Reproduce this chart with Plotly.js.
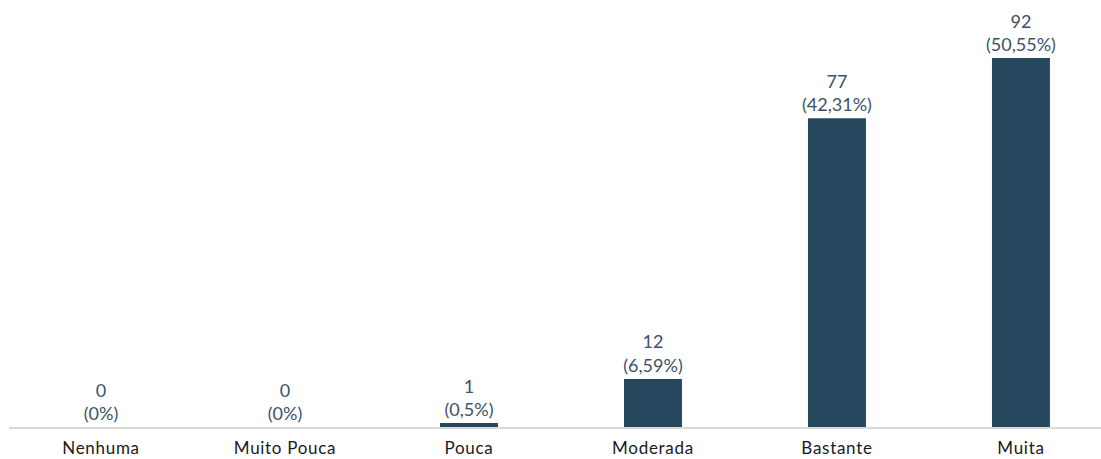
<!DOCTYPE html>
<html>
<head>
<meta charset="utf-8">
<script src="https://cdn.plot.ly/plotly-3.0.1.min.js"></script>
<style>
  html, body { margin: 0; padding: 0; background: #fff; }
  #chart { width: 1101px; height: 459px; }
  /* slightly open tracking for bar labels and category names */
  #chart .textpoint text, #chart .xtick text { letter-spacing: 0.7px; }
</style>
</head>
<body>
<div id="chart"></div>
<script>
// Answer categories and respondent counts
const categories = ['Nenhuma', 'Muito Pouca', 'Pouca', 'Moderada', 'Bastante', 'Muita'];
const counts = [0, 0, 1, 12, 77, 92];
const percentLabels = ['0%', '0%', '0,5%', '6,59%', '42,31%', '50,55%'];

const barText = counts.map((c, i) => c + '<br>(' + percentLabels[i] + ')');

const trace = {
  type: 'bar',
  x: categories,
  y: counts,
  text: barText,
  textposition: 'outside',
  constraintext: 'none',
  cliponaxis: false,
  textfont: { family: 'Lato, "Open Sans", sans-serif', size: 18, color: '#3D5266' },
  marker: { color: '#26485E', line: { width: 0 } },
  width: 0.315,
  hoverinfo: 'skip'
};

const layout = {
  width: 1101,
  height: 459,
  margin: { l: 9, r: 0, t: 20, b: 32 },
  paper_bgcolor: '#ffffff',
  plot_bgcolor: '#ffffff',
  showlegend: false,
  font: { family: 'Lato, "Open Sans", sans-serif' },
  xaxis: {
    type: 'category',
    range: [-0.5, 5.435],
    showgrid: false,
    zeroline: false,
    showline: true,
    linecolor: '#D9D9D9',
    linewidth: 1.5,
    ticks: '',
    ticklabelstandoff: 5,
    tickfont: { family: 'Lato, "Open Sans", sans-serif', size: 17, color: '#1a1a1a' },
    fixedrange: true
  },
  yaxis: {
    range: [0, 101.5],
    visible: false,
    showgrid: false,
    zeroline: false,
    fixedrange: true
  }
};

Plotly.newPlot('chart', [trace], layout, { displayModeBar: false, staticPlot: true });
</script>
</body>
</html>
